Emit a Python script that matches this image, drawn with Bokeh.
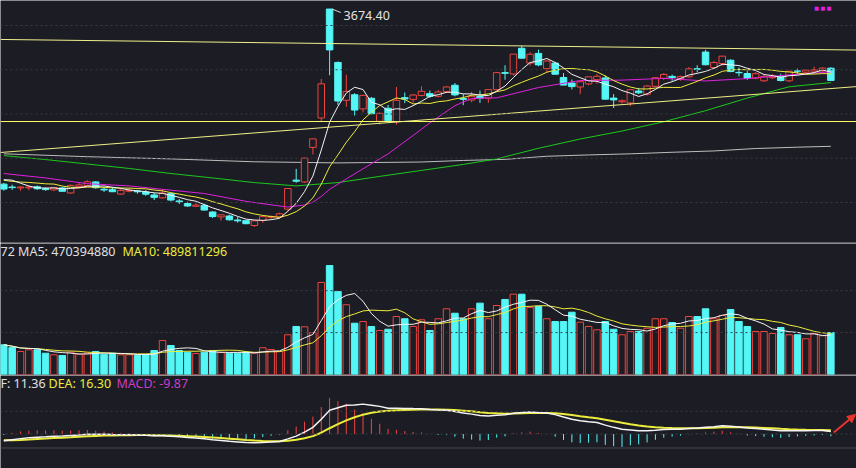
import numpy as np
import pandas as pd
from bokeh.plotting import figure
from bokeh.layouts import column
from bokeh.models import Span, Label, Arrow, NormalHead, Range1d, ColumnDataSource
from bokeh.embed import file_html
from bokeh.resources import INLINE

# ---------------- data (SSE Composite, daily) ----------------
dates = ["08-05","08-06","08-07","08-08","08-09","08-12","08-13","08-14","08-15","08-16",
         "08-19","08-20","08-21","08-22","08-23","08-26","08-27","08-28","08-29","08-30",
         "09-02","09-03","09-04","09-05","09-06","09-09","09-10","09-11","09-12","09-13",
         "09-18","09-19","09-20","09-23","09-24","09-25","09-26","09-27","09-30","10-08",
         "10-09","10-10","10-11","10-14","10-15","10-16","10-17","10-18","10-21","10-22",
         "10-23","10-24","10-25","10-28","10-29","10-30","10-31","11-01","11-04","11-05",
         "11-06","11-07","11-08","11-11","11-12","11-13","11-14","11-15","11-18","11-19",
         "11-20","11-21","11-22","11-25","11-26","11-27","11-28","11-29","12-02","12-03",
         "12-04","12-05","12-06","12-09","12-10","12-11","12-12","12-13","12-16","12-17",
         "12-18","12-19","12-20","12-23","12-24","12-25","12-26","12-27","12-30","12-31"]

opens = [2883.0,2870.0,2866.0,2866.5,2871.0,2862.5,2857.0,2866.0,2843.0,2872.0,
         2877.0,2893.0,2860.0,2858.0,2838.0,2851.0,2852.0,2847.0,2834.0,2821.0,
         2840.0,2807.0,2795.0,2783.0,2787.0,2757.0,2735.0,2739.0,2721.0,2718.0,
         2696.0,2719.0,2733.0,2735.0,2770.0,2901.0,2893.0,3049.0,3182.0,3674.40,
         3433.0,3262.0,3287.0,3223.0,3271.0,3167.0,3226.0,3165.0,3274.0,3266.0,
         3284.0,3292.0,3280.0,3301.0,3330.0,3270.0,3263.0,3279.0,3272.0,3310.0,
         3387.0,3381.0,3497.0,3430.0,3474.0,3405.0,3430.0,3365.0,3340.0,3322.0,
         3336.0,3355.0,3363.0,3272.0,3255.0,3250.0,3304.0,3289.0,3325.0,3361.0,
         3370.0,3360.0,3368.0,3404.0,3480.0,3410.0,3428.0,3443.0,3388.0,3383.0,
         3362.0,3350.0,3364.0,3367.0,3350.0,3394.0,3389.0,3394.0,3395.0,3407.0]
highs = [2888.9,2880.6,2873.0,2875.0,2877.0,2868.0,2869.0,2869.0,2881.0,2888.0,
         2901.0,2896.0,2868.0,2869.0,2865.0,2866.0,2858.0,2856.0,2844.0,2861.0,
         2843.0,2816.0,2803.0,2797.0,2795.0,2761.0,2747.0,2745.0,2734.0,2720.0,
         2718.0,2742.0,2741.0,2754.0,2865.0,2952.0,3000.95,3087.53,3358.6,3674.40,
         3437.0,3378.0,3294.0,3285.0,3277.0,3207.0,3241.0,3322.0,3297.0,3290.0,
         3325.0,3306.0,3308.0,3325.0,3340.0,3290.0,3300.0,3306.0,3311.0,3387.0,
         3420.0,3471.0,3509.0,3479.0,3491.0,3442.0,3436.0,3385.0,3356.0,3350.0,
         3368.0,3380.0,3374.0,3290.0,3266.0,3310.0,3318.0,3330.0,3366.0,3385.0,
         3378.0,3374.0,3412.0,3420.0,3490.0,3440.0,3462.0,3447.0,3410.0,3395.0,
         3390.0,3376.0,3380.0,3382.0,3394.0,3405.0,3401.0,3414.0,3411.0,3411.0]
lows = [2853.3,2857.0,2853.0,2855.0,2857.0,2853.0,2851.0,2849.0,2840.0,2870.0,
        2876.0,2862.0,2848.0,2847.0,2835.0,2846.0,2840.0,2830.0,2811.0,2818.0,
        2805.0,2793.0,2780.0,2780.0,2764.0,2730.0,2718.0,2718.0,2709.0,2702.0,
        2689.70,2708.0,2726.0,2731.0,2762.0,2889.0,2889.0,3017.0,3165.0,3375.0,
        3241.0,3233.0,3193.0,3207.0,3197.0,3152.0,3167.0,3152.0,3249.0,3249.0,
        3280.0,3273.0,3275.0,3295.0,3280.0,3240.0,3253.0,3250.0,3250.0,3305.0,
        3355.0,3374.0,3450.0,3418.0,3416.0,3389.0,3377.0,3330.0,3311.0,3290.0,
        3330.0,3337.0,3265.0,3227.0,3247.0,3236.0,3290.0,3283.0,3322.0,3353.0,
        3350.0,3350.0,3363.0,3388.0,3420.0,3405.0,3418.0,3389.0,3370.0,3354.0,
        3357.0,3345.0,3358.0,3347.0,3344.0,3380.0,3385.0,3391.0,3390.0,3351.0]
closes = [2860.70,2867.28,2869.90,2869.83,2862.19,2858.20,2867.95,2850.65,2877.36,2879.43,
          2893.67,2866.66,2856.58,2848.77,2854.37,2855.52,2848.32,2837.43,2823.11,2842.21,
          2811.04,2802.98,2784.28,2788.31,2765.81,2736.49,2744.19,2721.80,2717.12,2704.09,
          2717.28,2736.02,2736.81,2748.92,2863.13,2896.31,3000.95,3087.53,3336.50,3489.78,
          3258.86,3301.93,3217.74,3284.32,3201.29,3202.95,3169.38,3261.56,3268.11,3285.87,
          3302.80,3280.26,3299.70,3322.20,3286.41,3266.24,3279.82,3272.01,3310.21,3386.99,
          3383.81,3470.66,3452.30,3470.07,3421.97,3439.28,3379.84,3330.73,3323.85,3346.01,
          3367.99,3370.40,3267.19,3263.76,3259.76,3309.78,3295.70,3326.46,3363.98,3378.81,
          3364.65,3368.86,3404.08,3402.53,3422.66,3432.49,3461.50,3391.88,3386.33,3361.49,
          3382.21,3370.03,3368.07,3351.26,3393.35,3393.53,3398.08,3400.14,3407.33,3351.76]
# volume, millions of lots
volumes = [354,322,274,295,295,254,235,227,266,242,
           254,274,242,254,235,235,227,235,286,406,
           346,286,266,251,266,283,262,254,254,266,
           254,319,298,274,474,573,569,501,1098,1300,
           990,832,612,632,573,525,540,692,665,573,
           653,525,665,784,731,665,784,851,665,823,
           895,958,958,799,811,665,632,632,743,624,
           573,533,632,540,474,513,513,552,665,665,
           620,552,692,692,784,665,704,775,632,573,
           513,513,489,561,474,474,426,489,462,501]

# moving averages before a full window is on screen
ma5_head = [2903.3, 2900.9, 2887.1, 2874.6]
ma10_head = [2900.3, 2895.5, 2892.3, 2890.6, 2887.8, 2884.4, 2883.3, 2874.4, 2868.9]

# longer averages
ma20_idx = [0, 5, 10, 15, 19, 24, 29, 34, 36, 37, 38, 39, 41, 44, 46, 49, 51, 54, 56, 59,
            64, 69, 74, 79, 84, 89, 94, 99]
ma20_val = [2931, 2911, 2885, 2875, 2859.5, 2840.6, 2805.1, 2779.2, 2788.9, 2801.4, 2827.1,
            2859.5, 2906.8, 2975.1, 3019.6, 3103.3, 3159.8, 3237.7, 3270.2, 3272.9,
            3319.7, 3351.3, 3353.1, 3361.1, 3349.3, 3360.0, 3376.8, 3390.6]
ma60_idx = [0, 5, 10, 15, 20, 25, 30, 35, 40, 45, 50, 55, 59, 64, 69, 74, 79, 84, 89, 94, 99]
ma60_val = [3012, 2994, 2974, 2954, 2931, 2911, 2890, 2875, 2890, 2918, 2945, 2972, 2997,
            3045, 3087, 3123, 3165, 3215, 3272, 3323, 3342]
ma250_idx = [0, 10, 20, 30, 40, 50, 55, 60, 65, 70, 75, 80, 85, 90, 95, 99]
ma250_val = [3020, 3007, 2997, 2984, 2979, 2983, 2990, 2995, 3009, 3015, 3020, 3027, 3033,
             3044, 3050, 3054]

# hand-drawn trend lines (index, price)
trend_x = [[-0.4, 102.1], [-0.4, 102.1], [-0.4, 102.1]]
trend_y = [[3537, 3489], [3166, 3166], [3026, 3324]]

price_grid = [2800, 3000, 3200, 3400, 3600]
vol_grid = [500, 1000]
macd_grid = [0, 100]
dif0, dea0 = -30.0, -28.0   # DIF / DEA at the left edge

vol_text = "72 MA5: 470394880"
vol_text2 = "MA10: 489811296"
macd_texts = ["F: 11.36", "DEA: 16.30", "MACD: -9.87"]

# ---------------- styling ----------------
BG = "#1c1d24"
SEP = "#45464f"
GRID = "#3a3b45"
RED = "#f0443e"
CYAN = "#54f6f6"
WHITE = "#f4f4f4"
YEL = "#ecec3c"
MAG = "#e020e0"
GREEN = "#1ec81e"
GRAY = "#bdbdbd"
FONT = "Noto Sans"
W = 856

n = len(closes)
x = np.arange(n)
o = np.array(opens); c = np.array(closes)
up = c >= o
col = [RED if u else CYAN for u in up]
fill = [BG if u else CYAN for u in up]

cs = pd.Series(closes)
ma5 = cs.rolling(5).mean().to_numpy()
ma5[:4] = ma5_head
ma10 = cs.rolling(10).mean().to_numpy()
ma10[:9] = ma10_head

vs = pd.Series(volumes, dtype=float)
vma5 = vs.rolling(5, min_periods=1).mean().to_numpy()
vma10 = vs.rolling(10, min_periods=1).mean().to_numpy()

ema12 = [closes[0] + dif0]
ema26 = [closes[0]]
for v in closes[1:]:
    ema12.append(ema12[-1] + 2 / 13 * (v - ema12[-1]))
    ema26.append(ema26[-1] + 2 / 27 * (v - ema26[-1]))
dif = np.array(ema12) - np.array(ema26)
dea = [dea0]
for d in dif[1:]:
    dea.append(dea[-1] + 0.2 * (d - dea[-1]))
dea = np.array(dea)
hist = 2 * (dif - dea)

xr = Range1d(-0.395, 102.07)


def make_fig(h, y0, y1, bb):
    p = figure(width=W, height=h, x_range=xr, y_range=Range1d(y0, y1),
               output_backend="svg", toolbar_location=None,
               x_axis_location=None, y_axis_location=None,
               min_border_left=0, min_border_right=0, min_border_top=0,
               min_border_bottom=bb, background_fill_color=BG, border_fill_color=SEP)
    p.grid.visible = False
    p.outline_line_color = None
    return p


# ---------------- price panel ----------------
pp = make_fig(243, 2619.2, 3713.0, 1)
for g in price_grid:
    pp.add_layout(Span(location=g, dimension="width", line_color=GRID,
                       line_dash="2 3", line_width=1))
pp.line(ma250_idx, ma250_val, color=GRAY, line_width=1)
pp.line(ma60_idx, ma60_val, color=GREEN, line_width=1)
src = ColumnDataSource(dict(x=x, o=o, c=c, h=highs, l=lows,
                            top=np.maximum(o, c), bot=np.minimum(o, c),
                            col=col, fill=fill, vol=volumes))
pp.segment("x", "h", "x", "l", source=src, line_color="col", line_width=1)
pp.vbar(x="x", width=0.78, top="top", bottom="bot", source=src,
        fill_color="fill", line_color="col", line_width=1)
pp.line(ma20_idx, ma20_val, color=MAG, line_width=1)
pp.line(x, ma10, color=YEL, line_width=1)
pp.line(x, ma5, color=WHITE, line_width=1)
pp.multi_line(trend_x, trend_y, color=["#efef8c", "#ffff66", "#efef86"], line_width=1)

imax = int(np.argmax(highs))
hmax = highs[imax]
pp.segment(x0=[imax + 0.3], y0=[hmax], x1=[imax + 1.35], y1=[hmax - 16],
           line_color="#d8d8d8", line_width=1)
pp.add_layout(Label(x=imax, y=hmax, text=f"{hmax:.2f}", x_offset=14, y_offset=-6,
                    text_color="#e4e4e4", text_font=FONT, text_font_size="12.5px",
                    text_baseline="middle", text_align="left"))
pp.add_layout(Label(x=97.0, y=3681, text="■  ■  ■", text_color=MAG,
                    text_font="DejaVu Sans", text_font_size="5px",
                    text_baseline="middle", text_align="left"))

# ---------------- volume panel ----------------
vp = make_fig(132, 0, 1562.8, 1)
for g in vol_grid:
    vp.add_layout(Span(location=g, dimension="width", line_color=GRID,
                       line_dash="2 3", line_width=1))
vp.vbar(x="x", width=0.78, top="vol", bottom=0, source=src,
        fill_color="fill", line_color="col", line_width=1)
vp.line(x, vma10, color=YEL, line_width=1)
vp.line(x, vma5, color=WHITE, line_width=1)
vp.add_layout(Label(x=xr.start, y=1471, text=vol_text, text_color="#e0e0e0",
                    text_font=FONT, text_font_size="12.5px", text_baseline="middle",
                    x_offset=0))
vp.add_layout(Label(x=xr.start, y=1471, text=vol_text2, text_color=YEL,
                    text_font=FONT, text_font_size="12.5px", text_baseline="middle",
                    x_offset=122))

# ---------------- MACD panel ----------------
mp = make_fig(93, -151.8, 257.4, 0)
for g in macd_grid:
    mp.add_layout(Span(location=g, dimension="width", line_color=GRID,
                       line_dash="2 3", line_width=1))
mp.add_layout(Span(location=-61.6, dimension="width", line_color=SEP, line_width=1))
hcol = [RED if v >= 0 else CYAN for v in hist]
mp.segment(x0=x, y0=np.zeros(n), x1=x, y1=hist, line_color=hcol, line_width=1)
mp.line(x, dea, color=YEL, line_width=2)
mp.line(x, dif, color=WHITE, line_width=1.5)
for txt, off, colr in zip(macd_texts, [0, 48, 116], ["#e0e0e0", YEL, "#c83cc8"]):
    mp.add_layout(Label(x=xr.start, y=223.5, text=txt, text_color=colr, text_font=FONT,
                        text_font_size="12.5px", text_baseline="middle", x_offset=off))
mp.add_layout(Arrow(end=NormalHead(size=8, fill_color="#e8352e", line_color="#e8352e"),
                    x_start=n - 1 + 0.35, y_start=6.6, x_end=n - 1 + 2.95, y_end=86,
                    line_color="#e8352e", line_width=2))

layout = column(pp, vp, mp, spacing=0)
open("out.html", "w").write(file_html(layout, INLINE))
